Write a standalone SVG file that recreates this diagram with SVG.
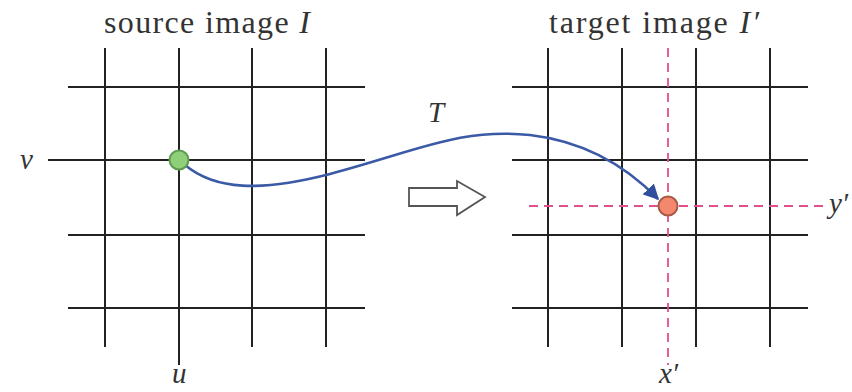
<svg xmlns="http://www.w3.org/2000/svg" width="852" height="392" viewBox="0 0 852 392">
<defs>
<style>
.g{stroke:#222;stroke-width:2;fill:none}
.d{stroke:#e0508f;stroke-width:1.8;stroke-dasharray:9 6;fill:none}
.t{font-family:"Liberation Serif",serif;font-size:32px;fill:#333}
.m{font-family:"Liberation Serif",serif;font-style:italic;font-size:29px;fill:#333}
</style>
<marker id="ah" viewBox="0 0 10 10" refX="9" refY="5" markerWidth="6" markerHeight="6" orient="auto" markerUnits="strokeWidth">
<path d="M0,0 L10,5 L0,10 Z" fill="#2f4f9e"/>
</marker>
</defs>
<rect width="852" height="392" fill="#fff"/>
<g id="source">
<path class="g" d="M105,48V347M179,48V365M252,48V347M326,48V347M68,87H365M48,160H365M68,235H365M68,308H365"/>
<text class="t" x="104" y="33" textLength="206" lengthAdjust="spacing">source image <tspan font-style="italic">I</tspan></text>
<text class="m" x="20" y="169">v</text>
<text class="m" x="172" y="383">u</text>
</g>
<g id="target">
<path class="g" d="M548,48V347M622,48V347M696,48V347M770,48V347M512,87H808M512,160H808M512,235H808M512,308H808"/>
<path class="d" d="M668,48V365M529,206H826"/>
<text class="t" x="549" y="33" textLength="210" lengthAdjust="spacing">target image <tspan font-style="italic">I′</tspan></text>
<text class="m" x="829" y="213">y′</text>
<text class="m" x="659" y="383">x′</text>
</g>
<g id="connectors">
<path d="M185,165 C215,190 260,192 330,174 C420,150 460,128 530,135 C590,142 630,170 658,199" fill="none" stroke="#3b5aa6" stroke-width="2.6" marker-end="url(#ah)"/>
<text class="m" x="428" y="122">T</text>
<path d="M409,188 H457 V181 L485,197 L457,215 V206 H409 Z" fill="#fff" stroke="#555" stroke-width="1.8" stroke-linejoin="miter"/>
</g>
<g id="points">
<circle cx="179" cy="160" r="9.5" fill="#8fcf78" stroke="#5f9a50" stroke-width="2"/>
<circle cx="668" cy="206" r="9.5" fill="#f4886e" stroke="#a85a45" stroke-width="2"/>
</g>
</svg>
